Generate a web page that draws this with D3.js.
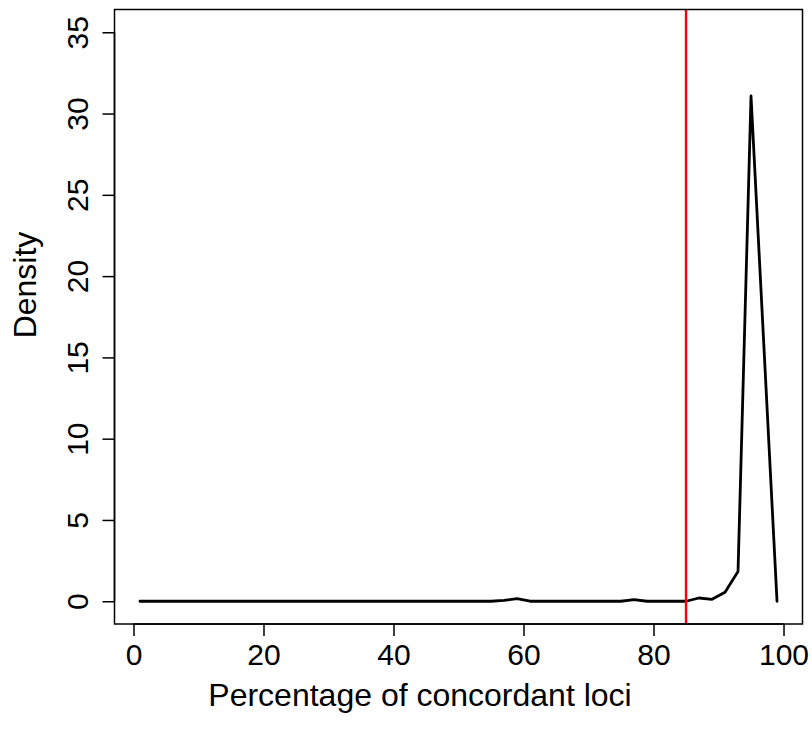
<!DOCTYPE html>
<html>
<head>
<meta charset="utf-8">
<script src="https://cdn.jsdelivr.net/npm/d3@7"></script>
<style>
  body { margin: 0; background: #fff; }
  svg { display: block; }
  text { font-family: "Liberation Sans", Arial, Helvetica, sans-serif; fill: #000; }
</style>
</head>
<body>
<svg id="chart" width="812" height="742"></svg>
<script>
// ---- data ----
const percentages = [1, 3, 5, 7, 9, 11, 13, 15, 17, 19, 21, 23, 25, 27, 29, 31, 33, 35, 37, 39,
  41, 43, 45, 47, 49, 51, 53, 55, 57, 59, 61, 63, 65, 67, 69, 71, 73, 75, 77, 79,
  81, 83, 85, 87, 89, 91, 93, 95, 97, 99];
const densities = [0, 0, 0, 0, 0, 0, 0, 0, 0, 0, 0, 0, 0, 0, 0, 0, 0, 0, 0, 0,
  0, 0, 0, 0, 0, 0, 0, 0, 0.05, 0.16, 0, 0, 0, 0, 0, 0, 0, 0, 0.1, 0,
  0, 0, 0, 0.2, 0.12, 0.55, 1.83, 31.08, 15.54, 0];
const xTicks = [0, 20, 40, 60, 80, 100];
const yTicks = [0, 5, 10, 15, 20, 25, 30, 35];
const xDomain = [-2.92, 102.92];
const yDomain = [-1.4, 36.4];
const thresholdValue = 85;
const xTitle = "Percentage of concordant loci";
const yTitle = "Density";

// ---- layout ----
const svg = d3.select("#chart");
const box = { left: 114.5, right: 802.5, top: 9.5, bottom: 624 };
const x = d3.scaleLinear().domain(xDomain).range([box.left, box.right]);
const y = d3.scaleLinear().domain(yDomain).range([box.bottom, box.top]);

// data line
const line = d3.line().x(d => x(d[0])).y(d => y(d[1]));
svg.append("path")
  .datum(percentages.map((p, i) => [p, densities[i]]))
  .attr("d", line)
  .attr("fill", "none")
  .attr("stroke", "#000")
  .attr("stroke-width", 2.8)
  .attr("stroke-linejoin", "round")
  .attr("stroke-linecap", "round");

// threshold line
svg.append("line")
  .attr("x1", x(thresholdValue)).attr("x2", x(thresholdValue))
  .attr("y1", box.top).attr("y2", box.bottom)
  .attr("stroke", "#ff0000")
  .attr("stroke-width", 2.4);

// box
svg.append("rect")
  .attr("x", box.left).attr("y", box.top)
  .attr("width", box.right - box.left).attr("height", box.bottom - box.top)
  .attr("fill", "none").attr("stroke", "#000").attr("stroke-width", 1.5);

// x axis
const xAxis = d3.axisBottom(x).tickValues(xTicks).tickSize(12).tickPadding(8).tickSizeOuter(0);
const gx = svg.append("g").attr("transform", `translate(0,${box.bottom})`).call(xAxis);
gx.select(".domain").attr("d", `M${x(xTicks[0])},0H${x(xTicks[xTicks.length-1])}`).attr("stroke-width", 1.5);
gx.selectAll(".tick line").attr("stroke-width", 1.5);
gx.selectAll(".tick text").attr("font-size", 30).attr("dy", "0.71em")
  .attr("font-family", "Liberation Sans, Arial, sans-serif");

// y axis
const yAxis = d3.axisLeft(y).tickValues(yTicks).tickSize(12).tickSizeOuter(0);
const gy = svg.append("g").attr("transform", `translate(${box.left},0)`).call(yAxis);
gy.select(".domain").attr("d", `M0,${y(yTicks[0])}V${y(yTicks[yTicks.length-1])}`).attr("stroke-width", 1.5);
gy.selectAll(".tick line").attr("stroke-width", 1.5);
gy.selectAll(".tick text")
  .attr("font-size", 30)
  .attr("font-family", "Liberation Sans, Arial, sans-serif")
  .attr("text-anchor", "middle")
  .attr("x", null).attr("dy", null)
  .attr("transform", "translate(-27,0) rotate(-90)");

// titles
svg.append("text")
  .attr("x", 420).attr("y", 706)
  .attr("text-anchor", "middle").attr("font-size", 32)
  .text(xTitle);
svg.append("text")
  .attr("transform", `translate(36,285) rotate(-90)`)
  .attr("text-anchor", "middle").attr("font-size", 32)
  .text(yTitle);
</script>
</body>
</html>
